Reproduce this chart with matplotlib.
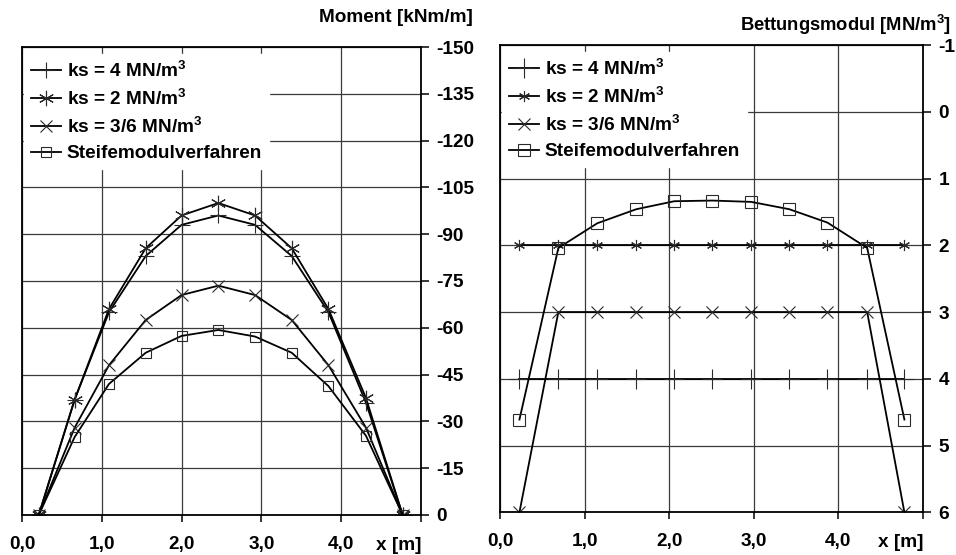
import matplotlib
matplotlib.use("Agg")
import matplotlib.pyplot as plt
import matplotlib.transforms as mtransforms

plt.rcParams['font.family'] = ['Liberation Sans', 'DejaVu Sans']
plt.rcParams['font.weight'] = 'bold'
plt.rcParams['mathtext.fontset'] = 'custom'
plt.rcParams['mathtext.rm'] = 'Liberation Sans'
plt.rcParams['mathtext.default'] = 'regular'
plt.rcParams['axes.unicode_minus'] = False

# Moment [kNm/m] along x [m]
x_mom = [0.21, 0.66, 1.09, 1.55, 2.0, 2.46, 2.92, 3.38, 3.84, 4.31, 4.77]
mom_ks4 = [0, -37, -65, -83, -93, -96, -93, -83, -65, -36, 0]
mom_ks2 = [0, -37, -66, -85.5, -96, -100, -96, -85.5, -66, -37.5, 0]
mom_ks36 = [0, -28, -48, -62.5, -70.5, -73.5, -70.5, -62.5, -48, -28, 0]
mom_stm = [0, -25, -42, -52, -57.4, -59.3, -57.2, -52, -41.3, -25.4, 0]

# Bettungsmodul [MN/m3] along x [m]
x_bet = [0.23, 0.69, 1.15, 1.61, 2.06, 2.51, 2.97, 3.42, 3.87, 4.34, 4.78]
bet_ks4 = [4, 4, 4, 4, 4, 4, 4, 4, 4, 4, 4]
bet_ks2 = [2, 2, 2, 2, 2, 2, 2, 2, 2, 2, 2]
bet_ks36 = [6, 3, 3, 3, 3, 3, 3, 3, 3, 3, 6]
bet_stm = [4.61, 2.04, 1.67, 1.46, 1.34, 1.33, 1.35, 1.46, 1.66, 2.04, 4.61]

labels = ["ks = 4 MN/m$^3$", "ks = 2 MN/m$^3$", "ks = 3/6 MN/m$^3$",
          "Steifemodulverfahren"]
x_ticks = [0, 1, 2, 3, 4, 5]
x_ticklabels = ["0,0", "1,0", "2,0", "3,0", "4,0", ""]
mom_ticks = [0, -15, -30, -45, -60, -75, -90, -105, -120, -135, -150]
bet_ticks = [-1, 0, 1, 2, 3, 4, 5, 6]

asterisk = (6, 2, 0)
fs = 13.7


def style_axes(ax):
    ax.set_xlim(0, 5)
    ax.set_xticks(x_ticks)
    ax.set_xticklabels(x_ticklabels)
    ax.yaxis.tick_right()
    ax.grid(True, color="#3a3a3a", lw=0.9)
    ax.set_axisbelow(True)
    for s in ax.spines.values():
        s.set_linewidth(1.3)
    ax.tick_params(axis="x", direction="out", length=5, width=1.1, pad=10,
                   labelsize=fs)
    ax.tick_params(axis="y", direction="out", length=6, width=1.1, pad=5,
                   labelsize=fs)
    trans = mtransforms.blended_transform_factory(ax.transData, ax.transAxes)
    ax.text(5, -0.047, "x [m]", transform=trans, ha="right", va="top",
            fontsize=fs, fontweight="bold")


fig = plt.figure(figsize=(9.56, 5.55), dpi=100)
ax1 = fig.add_axes([0.0230, 0.0721, 0.4174, 0.8432])
ax2 = fig.add_axes([0.5230, 0.0769, 0.4425, 0.8420])

lk = dict(color="black", lw=1.3, mfc="none", mec="#2a2a2a", mew=0.8)

# left: moment
ax1.plot(x_mom, mom_ks4, marker="+", ms=11, label=labels[0], **lk)
ax1.plot(x_mom, mom_ks2, marker=asterisk, ms=11, label=labels[1], **lk)
ax1.plot(x_mom, mom_ks36, marker="x", ms=8, label=labels[2], **lk)
ax1.plot(x_mom, mom_stm, marker="s", ms=7.5, label=labels[3], **lk)
ax1.set_ylim(0, -150)
ax1.set_yticks(mom_ticks)
style_axes(ax1)

# right: bettungsmodul
ax2.plot(x_bet, bet_ks4, marker="+", ms=14, label=labels[0], **lk)
ax2.plot(x_bet, bet_ks2, marker=asterisk, ms=8, label=labels[1], **lk)
ax2.plot(x_bet, bet_ks36, marker="x", ms=8, label=labels[2], **lk)
ax2.plot(x_bet, bet_stm, marker="s", ms=8, label=labels[3], **lk)
ax2.set_ylim(6, -1)
ax2.set_yticks(bet_ticks)
style_axes(ax2)

for ax in (ax1, ax2):
    leg = ax.legend(loc="upper left", bbox_to_anchor=(0.005, 0.985),
                    fontsize=fs, frameon=True, fancybox=False,
                    facecolor="white", edgecolor="white", framealpha=1,
                    handlelength=1.6, handletextpad=0.3, labelspacing=0.42,
                    borderpad=0.35, numpoints=1, borderaxespad=0)
    for t in leg.get_texts():
        t.set_fontweight("bold")

fig.text(473 / 956, 1 - 17 / 555, "Moment [kNm/m]", ha="right", va="center",
         fontsize=fs, fontweight="bold")
fig.text(951 / 956, 1 - 25 / 555, r"Bettungsmodul $\mathrm{[MN/m^3]}$",
         ha="right", va="center", fontsize=13.2, fontweight="bold")

fig.savefig("out.png", dpi=100)
